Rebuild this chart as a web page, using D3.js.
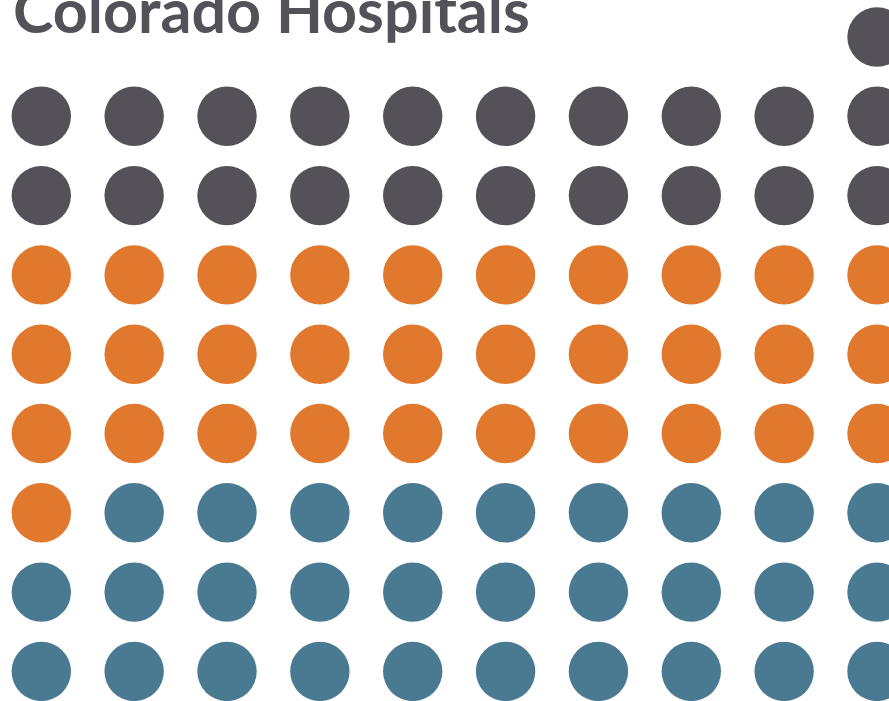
<!DOCTYPE html>
<html>
<head>
<meta charset="utf-8">
<script src="https://cdn.jsdelivr.net/npm/d3@7"></script>
<style>
  html, body { margin: 0; padding: 0; background: #ffffff; overflow: hidden; }
  svg { display: block; }
</style>
</head>
<body>
<svg id="chart" width="889" height="701"></svg>
<script>
// Dot counts per group, filled left to right, top to bottom
const groups = ["gray", "orange", "blue"];
const counts = [21, 31, 29];
const colors = ["#545258", "#E0782E", "#4A7A92"];
const titleText = "Colorado Hospitals";

const columns = 10;
const leadingBlanks = 9;   // cells left empty in the first row beside the title

const svg = d3.select("#chart");
const W = 889, H = 701;

// Expand counts into one record per dot
const dots = [];
groups.forEach((g, gi) => {
  for (let k = 0; k < counts[gi]; k++) dots.push({ group: g, gi });
});
dots.forEach((d, i) => {
  const cell = i + leadingBlanks;
  d.col = cell % columns;
  d.row = Math.floor(cell / columns);
});
const nRows = d3.max(dots, d => d.row);

const x = d3.scaleLinear().domain([0, columns - 1]).range([41.3, 877]);
const y = d3.scaleLinear().domain([0, nRows]).range([37, 671.4]);
const color = d3.scaleOrdinal().domain(groups).range(colors);
const r = 29.7;

svg.append("g")
  .selectAll("circle")
  .data(dots)
  .join("circle")
  .attr("cx", d => x(d.col))
  .attr("cy", d => y(d.row))
  .attr("r", r)
  .attr("fill", d => color(d.group));

// Title, sized to span its column of dots
const title = svg.append("text")
  .attr("x", 13)
  .attr("y", 33)
  .attr("font-family", "Lato, 'Open Sans', sans-serif")
  .attr("font-weight", 700)
  .attr("font-size", 40)
  .attr("fill", "#545258")
  .text(titleText);
const w = title.node().getComputedTextLength();
title.attr("font-size", 40 * 517 / w);
</script>
</body>
</html>
